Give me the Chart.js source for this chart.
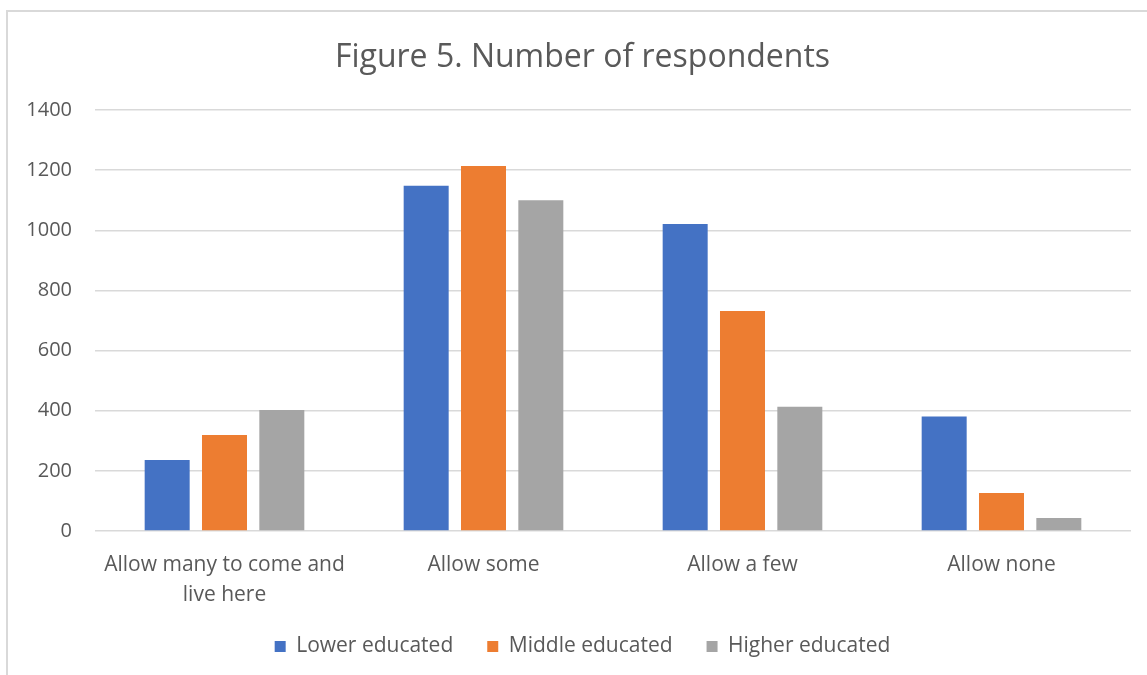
<!DOCTYPE html>
<html>
<head>
<meta charset="utf-8">
<script src="https://cdn.jsdelivr.net/npm/chart.js@4/dist/chart.umd.min.js"></script>
<style>
  html, body { margin: 0; padding: 0; background: #fff; overflow: hidden; }
  #frame {
    position: absolute; left: 6px; top: 10px;
    width: 1200px; height: 720px;
    border: 2px solid #d9d9d9;
  }
  #wrap { position: absolute; left: 0; top: 0; width: 1147px; height: 675px; }
</style>
</head>
<body>
<div id="frame"></div>
<div id="wrap"><canvas id="chart"></canvas></div>
<script>
// categorias y respuestas por nivel educativo
const categorias = [
  ["Allow many to come and", "live here"],
  "Allow some",
  "Allow a few",
  "Allow none",
];
const bajo = [236, 1148, 1021, 381];
const medio = [319, 1214, 732, 126];
const alto = [402, 1100, 413, 43];

const colorTexto = "#595959";
const fuente = "'Open Sans', Lato, sans-serif";

// amplia la zona de las etiquetas para que no se recorten
const sinRecorte = {
  id: "sinRecorte",
  afterLayout(chart) {
    chart.scales.y.left = 0;
    chart.scales.x.bottom = chart.height;
  },
};

new Chart(document.getElementById("chart"), {
  type: "bar",
  data: {
    labels: categorias,
    datasets: [
      { label: "Lower educated", data: bajo, backgroundColor: "#4472C4" },
      { label: "Middle educated", data: medio, backgroundColor: "#ED7D31" },
      { label: "Higher educated", data: alto, backgroundColor: "#A5A5A5" },
    ],
  },
  plugins: [sinRecorte],
  options: {
    responsive: true,
    maintainAspectRatio: false,
    animation: false,
    categoryPercentage: 0.664,
    barPercentage: 0.785,
    layout: { padding: { top: 39, bottom: 8, left: 34, right: 16 } },
    plugins: {
      title: {
        display: true,
        text: "Figure 5. Number of respondents",
        color: colorTexto,
        font: { family: fuente, size: 32, weight: "normal" },
        padding: { top: 0, bottom: 32.6 },
      },
      legend: {
        position: "bottom",
        labels: {
          color: colorTexto,
          font: { family: fuente, size: 21 },
          boxWidth: 11,
          boxHeight: 11,
          padding: 34,
        },
      },
      tooltip: { enabled: false },
    },
    scales: {
      y: {
        min: 0,
        max: 1400,
        ticks: {
          stepSize: 200,
          color: colorTexto,
          font: { family: fuente, size: 20 },
          padding: 23,
          callback: (v) => String(v),
        },
        grid: { color: "#d9d9d9", lineWidth: 1.5, drawTicks: false },
        border: { display: false },
        afterFit: (scale) => { scale.width = 61; },
      },
      x: {
        ticks: {
          color: colorTexto,
          font: { family: fuente, size: 21, lineHeight: 1.43 },
          padding: 19,
          maxRotation: 0,
        },
        grid: { display: false, drawTicks: false },
        border: { display: false },
        afterFit: (scale) => { scale.height = 71; },
      },
    },
  },
});
</script>
</body>
</html>
